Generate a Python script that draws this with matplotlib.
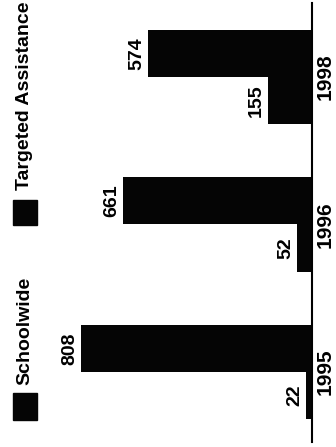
import matplotlib
matplotlib.use("Agg")
import matplotlib.pyplot as plt
from matplotlib.patches import Rectangle

plt.rcParams['font.family'] = ['Liberation Sans', 'DejaVu Sans']

years = ["1995", "1996", "1998"]
schoolwide = [808, 661, 574]
targeted = [22, 52, 155]
series_names = ["Schoolwide", "Targeted Assistance"]

W, H = 336, 447
fig = plt.figure(figsize=(W / 100, H / 100), dpi=100)
ax = fig.add_axes([0, 5 / H, 312 / W, 439 / H])

color = "#050505"
bw = 0.32
pos = list(range(len(years)))
ax.barh([p - bw / 2 for p in pos], targeted, height=bw, color=color)
ax.barh([p + bw / 2 for p in pos], schoolwide, height=bw, color=color)

ax.set_xlim(1092, 0)
ax.set_ylim(-0.4746, 2.5017)

for s in ["top", "bottom", "left"]:
    ax.spines[s].set_visible(False)
ax.spines["right"].set_linewidth(1.5)
ax.spines["right"].set_color("black")
ax.set_xticks([])
ax.set_yticks([])
ax.patch.set_alpha(0)

for p, v in zip(pos, targeted):
    ax.annotate(str(v), xy=(v, p - bw / 2), xytext=(-2, 0), textcoords="offset points",
                rotation=90, ha="right", va="center", fontsize=14, fontweight="bold")
for p, v in zip(pos, schoolwide):
    ax.annotate(str(v), xy=(v, p + bw / 2), xytext=(-2, 0), textcoords="offset points",
                rotation=90, ha="right", va="center", fontsize=14, fontweight="bold")
for p, y in zip(pos, years):
    ax.annotate(y, xy=(0, p), xytext=(2.5, 0), textcoords="offset points",
                rotation=90, ha="left", va="center", fontsize=15, fontweight="bold",
                annotation_clip=False)

# legend (manual, rotated)
fig.patches.append(Rectangle((13 / W, (H - 420) / H), 24 / W, 27 / H,
                             transform=fig.transFigure, color=color))
fig.patches.append(Rectangle((13 / W, (H - 225) / H), 24 / W, 25 / H,
                             transform=fig.transFigure, color=color))
fig.text(25 / W, (H - 385) / H, series_names[0], rotation=90, ha="center", va="bottom",
         fontsize=14, fontweight="bold")
fig.text(25 / W, (H - 190) / H, series_names[1], rotation=90, ha="center", va="bottom",
         fontsize=14, fontweight="bold")

fig.savefig("out.png", dpi=100)
